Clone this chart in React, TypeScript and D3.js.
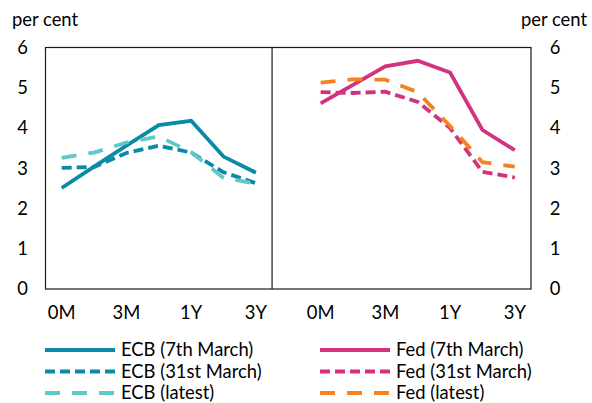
import React from "react";
import * as d3 from "d3";

const tenorLabels = ["0M", "", "3M", "", "1Y", "", "3Y"];
const yTicks = [0, 1, 2, 3, 4, 5, 6];

const ecbMarch7 = [2.51, 3.04, 3.56, 4.07, 4.18, 3.29, 2.89];
const ecbMarch31 = [3.01, 3.03, 3.38, 3.56, 3.39, 2.9, 2.63];
const ecbLatest = [3.26, 3.39, 3.64, 3.79, 3.4, 2.76, 2.62];

const fedMarch7 = [4.61, 5.07, 5.53, 5.67, 5.38, 3.95, 3.45];
const fedMarch31 = [4.89, 4.87, 4.9, 4.65, 4.0, 2.91, 2.77];
const fedLatest = [5.13, 5.21, 5.2, 4.89, 4.05, 3.15, 3.04];

const C_ECB = "#0a8aa6";
const C_ECB_L = "#5ec9c6";
const C_FED = "#d4317e";
const C_FED_L = "#f5821f";

type Series = { name: string; panel: "ECB" | "Fed"; values: number[]; color: string; dash: string | null };

const series: Series[] = [
  { name: "ECB (7th March)", panel: "ECB", values: ecbMarch7, color: C_ECB, dash: null },
  { name: "ECB (31st March)", panel: "ECB", values: ecbMarch31, color: C_ECB, dash: "10 5" },
  { name: "ECB (latest)", panel: "ECB", values: ecbLatest, color: C_ECB_L, dash: "15 12" },
  { name: "Fed (7th March)", panel: "Fed", values: fedMarch7, color: C_FED, dash: null },
  { name: "Fed (31st March)", panel: "Fed", values: fedMarch31, color: C_FED, dash: "10 5" },
  { name: "Fed (latest)", panel: "Fed", values: fedLatest, color: C_FED_L, dash: "15 12" },
];

const keys = [
  ...tenorLabels.map((_, i) => `ECB-${i}`),
  "gap",
  ...tenorLabels.map((_, i) => `Fed-${i}`),
];

export default function App() {
  const W = 592, H = 403;
  const left = 45.5, right = 531, top = 47.5, bottom = 289;
  const x = d3.scaleBand<string>().domain(keys).range([left, right]).padding(0);
  const y = d3.scaleLinear().domain([0, 6]).range([bottom, top]);
  const cx = (k: string) => (x(k) as number) + x.bandwidth() / 2;
  const divider = x("gap") as number;
  const font = "Lato, 'Open Sans', sans-serif";
  const fs = 18.4;

  const line = (s: Series) =>
    d3
      .line<number>()
      .x((_, i) => cx(`${s.panel}-${i}`))
      .y((v) => y(v))(s.values) as string;

  const legendRows = [0, 1, 2];
  return (
    <svg
      width={W}
      height={H}
      style={{ position: "absolute", left: 0, top: 0, background: "#fff" }}
      fontFamily={font}
    >
      <text x={12} y={26} fontSize={fs} fill="#000">per cent</text>
      <text x={587} y={26} fontSize={fs} fill="#000" textAnchor="end">per cent</text>
      {yTicks.map((t) => (
        <g key={t}>
          <text x={22.5} y={y(t)} dy="0.35em" fontSize={fs} textAnchor="middle">{t}</text>
          <text x={555} y={y(t)} dy="0.35em" fontSize={fs} textAnchor="middle">{t}</text>
        </g>
      ))}
      {["ECB", "Fed"].map((p) =>
        tenorLabels.map((lab, i) =>
          lab ? (
            <text key={p + i} x={cx(`${p}-${i}`)} y={313} dy="0.35em" fontSize={fs} textAnchor="middle">
              {lab}
            </text>
          ) : null
        )
      )}
      {series.map((s) => (
        <path
          key={s.name}
          d={line(s)}
          fill="none"
          stroke={s.color}
          strokeWidth={3.8}
          strokeDasharray={s.dash ?? undefined}
        />
      ))}
      <rect x={left} y={top} width={right - left} height={bottom - top} fill="none" stroke="#1a1a1a" strokeWidth={1.2} />
      <line x1={divider} x2={divider} y1={top} y2={bottom} stroke="#1a1a1a" strokeWidth={1.2} />
      {series.map((s, idx) => {
        const col = idx < 3 ? 0 : 1;
        const row = legendRows[idx % 3];
        const lx = col === 0 ? 45 : 320;
        const ly = 350 + row * 21.5;
        return (
          <g key={"lg" + s.name}>
            <line x1={lx} x2={lx + 70} y1={ly} y2={ly} stroke={s.color} strokeWidth={3.8} strokeDasharray={s.dash ?? undefined} />
            <text x={lx + 76} y={ly} dy="0.35em" fontSize={fs}>{s.name}</text>
          </g>
        );
      })}
    </svg>
  );
}
